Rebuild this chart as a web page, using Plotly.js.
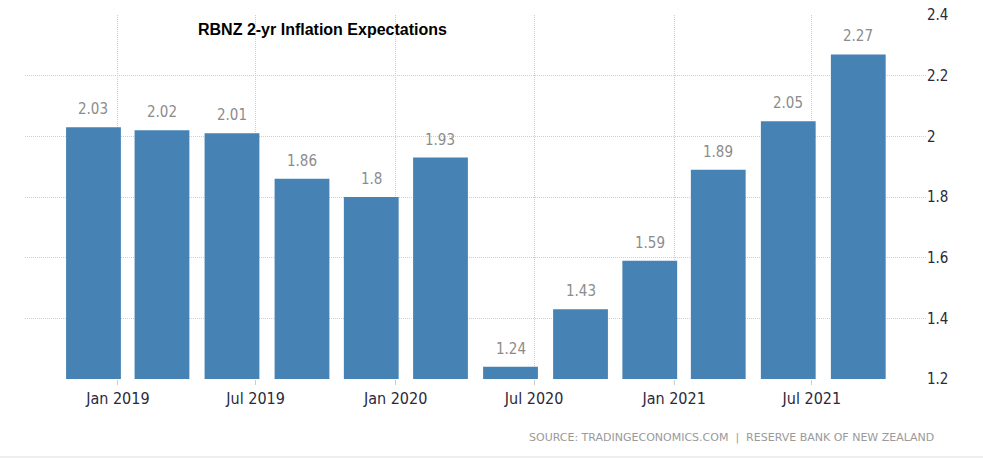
<!DOCTYPE html>
<html>
<head>
<meta charset="utf-8">
<script src="https://cdn.plot.ly/plotly-3.0.1.min.js"></script>
<style>html,body{margin:0;padding:0;background:#fff;}#chart{width:983px;height:460px;}</style>
</head>
<body>
<div id="chart"></div>
<script>
const dates = ['2018-11-30','2019-02-28','2019-05-31','2019-08-31','2019-11-30','2020-02-29',
               '2020-05-31','2020-08-31','2020-11-30','2021-02-28','2021-05-31','2021-08-31'];
const values = [2.03, 2.02, 2.01, 1.86, 1.8, 1.93, 1.24, 1.43, 1.59, 1.89, 2.05, 2.27];
const yTicks = [1.2, 1.4, 1.6, 1.8, 2, 2.2, 2.4];
const titleText = 'RBNZ 2-yr Inflation Expectations';
const sourceText = 'SOURCE: TRADINGECONOMICS.COM  |  RESERVE BANK OF NEW ZEALAND';

const trace = {
  type: 'bar', x: dates, y: values,
  marker: {color: '#4682b4', line: {width: 0}},
  hoverinfo: 'x+y'
};

const valueAnnotations = dates.map((d, i) => ({
  x: d, y: values[i], xref: 'x', yref: 'y',
  text: String(values[i]), showarrow: false,
  yanchor: 'bottom', yshift: 7,
  font: {family: 'DejaVu Sans Condensed, DejaVu Sans', size: 15, color: '#8c8c8c'}
}));

const layout = {
  width: 983, height: 460,
  margin: {l: 25, r: 57, t: 15, b: 81},
  paper_bgcolor: '#fff', plot_bgcolor: '#fff',
  showlegend: false,
  bargap: 0.2,
  xaxis: {
    type: 'date', range: ['2018-09-01', '2021-11-28'],
    tick0: '2019-01-01', dtick: 'M6', tickformat: '%b %Y',
    showgrid: true, gridcolor: '#cfcfcf', griddash: '1px,1px', gridwidth: 1,
    ticks: 'outside', ticklen: 5, tickcolor: '#cccccc',
    showline: false, zeroline: false,
    tickfont: {family: 'DejaVu Sans Condensed, DejaVu Sans', size: 16, color: '#2a2a3a'}
  },
  yaxis: {
    side: 'right', range: [1.2, 2.4], tickvals: yTicks,
    showgrid: true, gridcolor: '#cfcfcf', griddash: '1px,1px', gridwidth: 1,
    ticks: '', zeroline: false, showline: false,
    tickfont: {family: 'DejaVu Sans Condensed, DejaVu Sans', size: 15, color: '#2a2a3a'}
  },
  annotations: valueAnnotations.concat([
    {xref: 'paper', yref: 'paper', x: 0.19, y: 1, xanchor: 'left', yanchor: 'top', yshift: -4,
     text: '<b>' + titleText + '</b>', showarrow: false,
     font: {family: 'Liberation Sans Narrow, Liberation Sans', size: 16, color: '#000'}},
    {xref: 'paper', yref: 'paper', x: 1.011, y: 0, xanchor: 'right', yanchor: 'middle', yshift: -58,
     text: sourceText, showarrow: false,
     font: {family: 'DejaVu Sans', size: 11, color: '#9a9a9a'}}
  ]),
  shapes: [
    {type: 'line', xref: 'paper', yref: 'paper', x0: -0.03, x1: 1.07, y0: -0.214, y1: -0.214,
     line: {color: '#eeeeee', width: 2}}
  ]
};

Plotly.newPlot('chart', [trace], layout, {displayModeBar: false, staticPlot: true});
</script>
</body>
</html>
